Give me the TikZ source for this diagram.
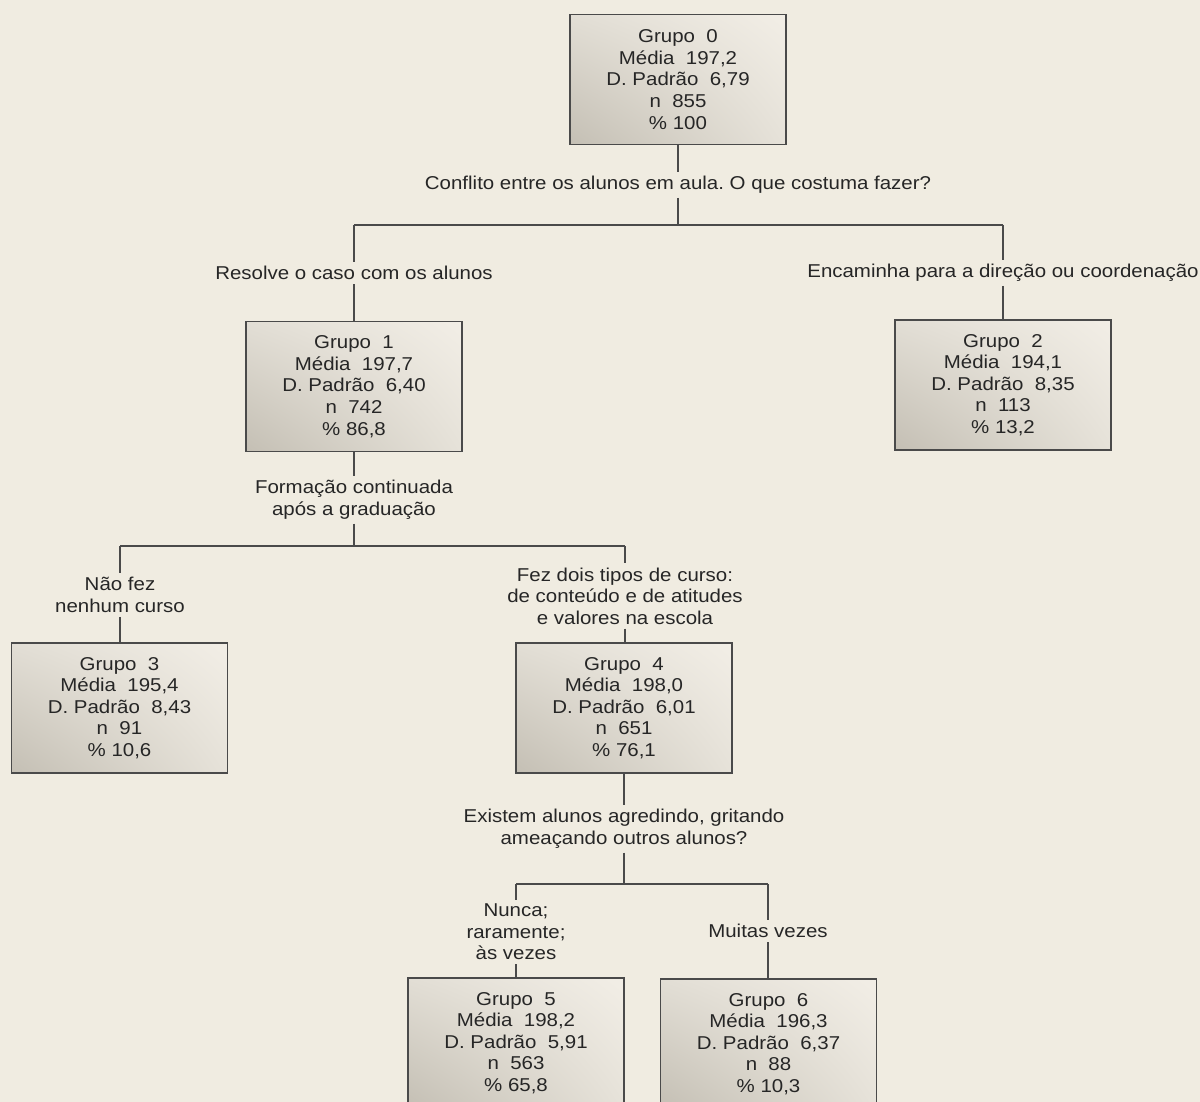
\documentclass[tikz,border=0pt]{standalone}
\usepackage{fontspec}
\usetikzlibrary{shadings}
\setmainfont[FakeStretch=1.1]{Liberation Sans}
\frenchspacing
\definecolor{bg}{HTML}{F0ECE1}
\definecolor{ink}{HTML}{262626}
\definecolor{edge}{HTML}{4A4A4A}
\definecolor{boxLL}{HTML}{C4BFB4}
\definecolor{boxUL}{HTML}{E2DED5}
\definecolor{boxLR}{HTML}{E6E2D9}
\definecolor{boxUR}{HTML}{F2EEE6}
\tikzset{
  grp/.style={draw=edge, line width=1.1pt, minimum width=216pt, minimum height=130pt,
    inner sep=0pt, align=center, text=ink, shade,
    lower left=boxLL, upper left=boxUL, lower right=boxLR, upper right=boxUR,
    font=\fontsize{18.6}{21.6}\selectfont},
  lbl/.style={align=center, inner xsep=2pt, inner ysep=4pt, text=ink,
    font=\fontsize{18.6}{21.6}\selectfont},
  conn/.style={draw=edge, line width=1.1pt}
}
\begin{document}
\begin{tikzpicture}[x=1pt,y=-1pt]
\fill[bg] (0,0) rectangle (1200,1102);
\useasboundingbox (0,0) rectangle (1200,1102);
\clip (0,0) rectangle (1200,1102);

\node[grp] (g0) at (678,79.5) {Grupo~~0\\Média~~197,2\\D. Padrão~~6,79\\n~~855\\\% 100};
\node[lbl] (q0) at (678,185) {Conflito entre os alunos em aula. O que costuma fazer?};
\coordinate (j0) at (678,225);
\coordinate (j0l) at (354,225);
\coordinate (j0r) at (1003,225);
\node[lbl] (a1) at (354,273) {Resolve o caso com os alunos};
\node[lbl] (a2) at (1003,273) {Encaminha para a direção ou coordenação};
\node[grp] (g1) at (354,386.5) {Grupo~~1\\Média~~197,7\\D. Padrão~~6,40\\n~~742\\\% 86,8};
\node[grp] (g2) at (1003,385) {Grupo~~2\\Média~~194,1\\D. Padrão~~8,35\\n~~113\\\% 13,2};
\node[lbl] (q1) at (354,500) {Formação continuada\\após a graduação};
\coordinate (j1) at (354,546);
\coordinate (j1l) at (120,546);
\coordinate (j1r) at (625,546);
\node[lbl] (a3) at (120,595) {Não fez\\nenhum curso};
\node[lbl] (a4) at (625,596) {Fez dois tipos de curso:\\de conteúdo e de atitudes\\e valores na escola};
\node[grp] (g3) at (119.5,708) {Grupo~~3\\Média~~195,4\\D. Padrão~~8,43\\n~~91\\\% 10,6};
\node[grp] (g4) at (624,708) {Grupo~~4\\Média~~198,0\\D. Padrão~~6,01\\n~~651\\\% 76,1};
\node[lbl] (q4) at (624,829) {Existem alunos agredindo, gritando\\ameaçando outros alunos?};
\coordinate (j4) at (624,884);
\coordinate (j4l) at (516,884);
\coordinate (j4r) at (768,884);
\node[lbl] (a5) at (516,932) {Nunca;\\raramente;\\às vezes};
\node[lbl] (a6) at (768,931) {Muitas vezes};
\node[grp] (g5) at (516,1043) {Grupo~~5\\Média~~198,2\\D. Padrão~~5,91\\n~~563\\\% 65,8};
\node[grp] (g6) at (768.5,1044) {Grupo~~6\\Média~~196,3\\D. Padrão~~6,37\\n~~88\\\% 10,3};

\draw[conn] (g0.south) -- (q0.north);
\draw[conn] (q0.south) -- (j0);
\draw[conn] (j0l) -- (j0r);
\draw[conn] (j0l) -- (a1.north);
\draw[conn] (a1.south) -- (g1.north);
\draw[conn] (j0r) -- (a2.north);
\draw[conn] (a2.south) -- (g2.north);
\draw[conn] (g1.south) -- (q1.north);
\draw[conn] (q1.south) -- (j1);
\draw[conn] (j1l) -- (j1r);
\draw[conn] (j1l) -- (a3.north);
\draw[conn] (a3.south) -- (a3.south |- g3.north);
\draw[conn] (j1r) -- (a4.north);
\draw[conn] (a4.south) -- (a4.south |- g4.north);
\draw[conn] (g4.south) -- (q4.north);
\draw[conn] (q4.south) -- (j4);
\draw[conn] (j4l) -- (j4r);
\draw[conn] (j4l) -- (a5.north);
\draw[conn] (a5.south) -- (g5.north);
\draw[conn] (j4r) -- (a6.north);
\draw[conn] (a6.south) -- (a6.south |- g6.north);
\end{tikzpicture}
\end{document}
